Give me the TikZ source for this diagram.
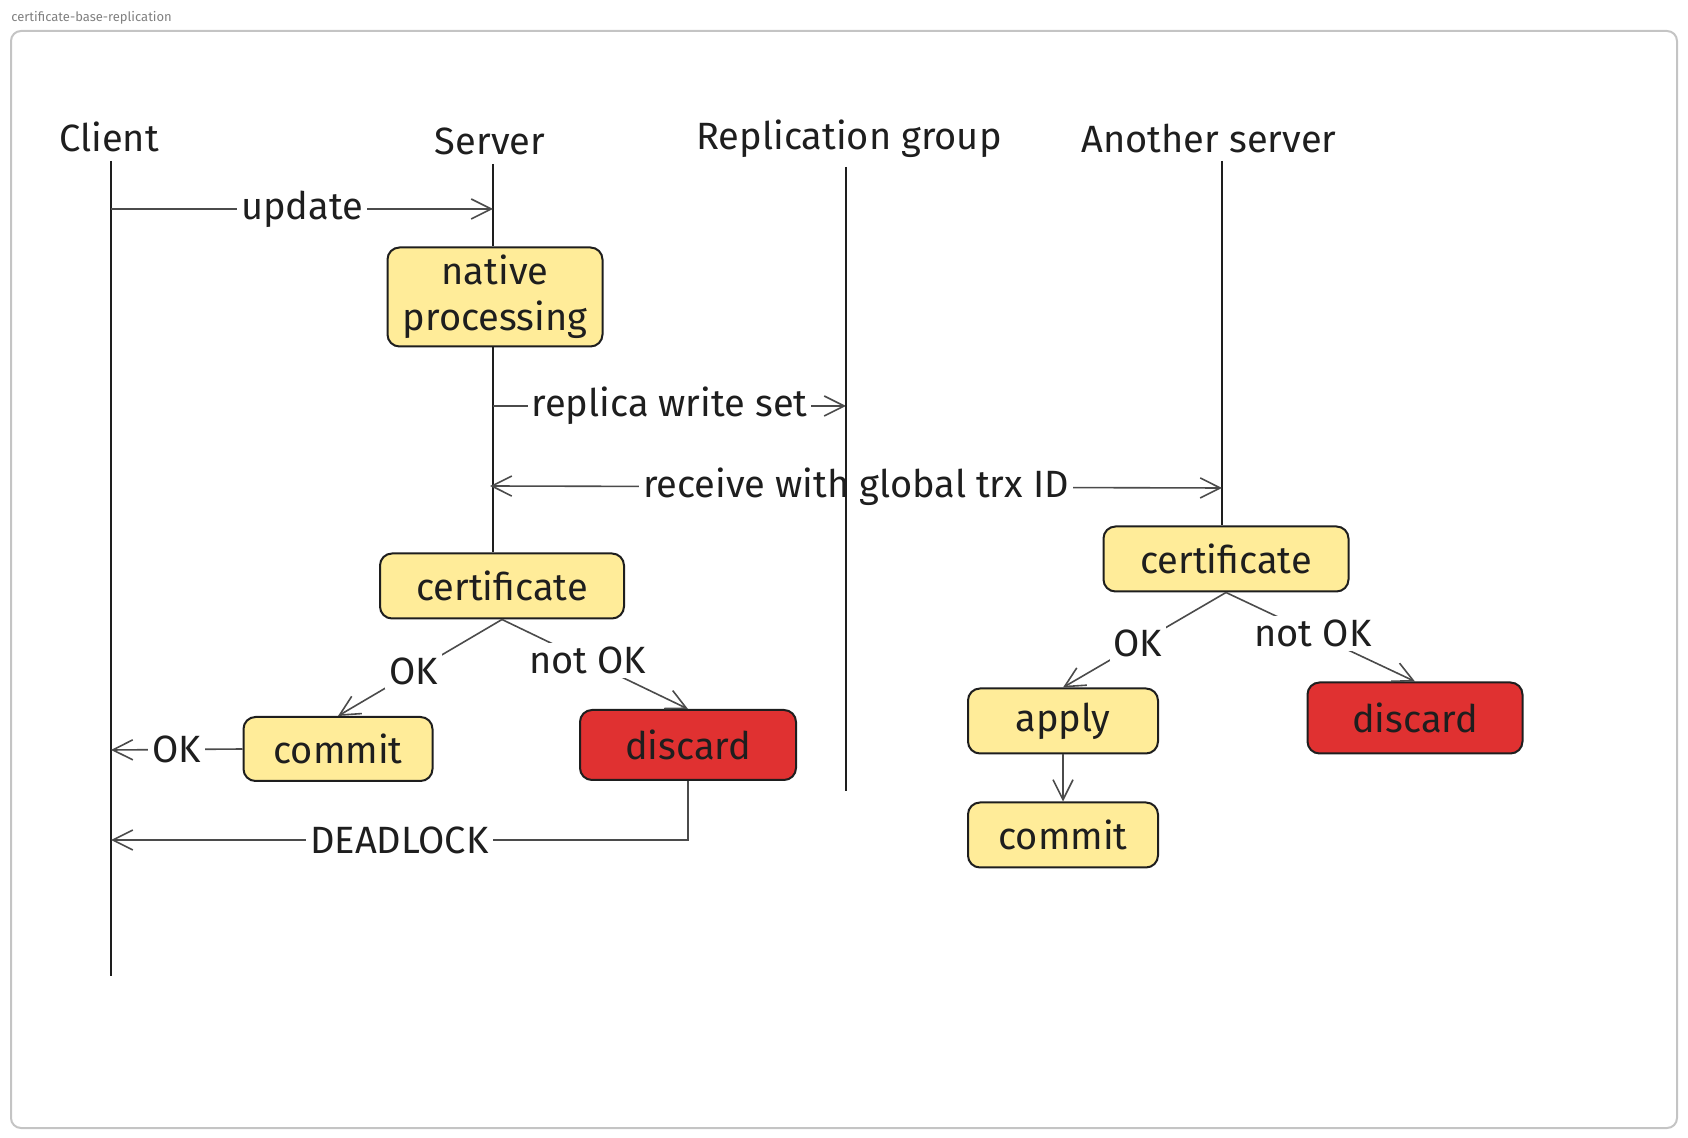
\documentclass[tikz,border=0pt]{standalone}
\usepackage{xcolor}
\usepackage{fontspec}
\setmainfont{Fira Sans}
\usepackage{tikz}
\usetikzlibrary{positioning,arrows.meta}
\definecolor{ink}{HTML}{1E1E1E}
\definecolor{note}{HTML}{FFEC99}
\definecolor{alert}{HTML}{E03131}
\definecolor{framegray}{HTML}{C4C4C4}

\begin{document}
\begin{tikzpicture}[x=0.5pt, y=-0.5pt, >={Straight Barb[length=10pt,width=10pt]},
  every node/.style={font=\fontsize{19}{23}\selectfont, text=ink},
  box/.style={draw=ink, line width=1pt, rounded corners=6pt, fill=note, align=center, inner sep=0pt},
  badbox/.style={box, fill=alert},
  lane/.style={draw=ink, line width=0.8pt},
  msg/.style={draw=ink!80, line width=0.8pt, ->},
  lbl/.style={fill=white, inner sep=2pt}]
  \useasboundingbox (0,0) rectangle (1688,1138);
  \draw[framegray, line width=1pt, rounded corners=5pt] (11,31) rectangle (1677,1128);
  \node[anchor=west, text=gray, font=\fontsize{6.5}{8}\selectfont, inner sep=0pt] (title) at (11,18) {certificate-base-replication};

  \node (client) at (109,137) {Client};
  \node (server) at (490,141) {Server};
  \node (group) at (849,139) {Replication group};
  \node (other) at (1209,139) {Another server};

  \node[box, minimum width=107.5pt, minimum height=49.5pt] (native) at (495,297) {native\\processing};
  \node[box, minimum width=122pt, minimum height=32.5pt] (certL) at (502,586) {certificate};
  \node[box, minimum width=94.5pt, minimum height=32pt] (commitL) at (338,749) {commit};
  \node[badbox, minimum width=108pt, minimum height=35pt] (discardL) at (688,745) {discard};
  \node[box, minimum width=122.5pt, minimum height=32.5pt] (certR) at (1226,559) {certificate};
  \node[box, minimum width=95pt, minimum height=32.5pt] (apply) at (1063,721) {apply};
  \node[box, minimum width=95pt, minimum height=32.5pt] (commitR) at (1063,835) {commit};
  \node[badbox, minimum width=107.5pt, minimum height=35.5pt] (discardR) at (1415,718) {discard};

  \coordinate (clientTop) at (111,161);
  \coordinate (clientEnd) at (111,976);
  \coordinate (serverTop) at (493,164);
  \coordinate (groupTop) at (846,167);
  \coordinate (groupEnd) at (846,791);
  \coordinate (otherTop) at (1222,161);

  \coordinate (c1) at (111,209);
  \coordinate (s1) at (493,209);
  \coordinate (s2) at (493,406);
  \coordinate (g2) at (846,406);
  \coordinate (s3) at (490,486);
  \coordinate (o3) at (1222,488);
  \coordinate (c4) at (111,750);
  \coordinate (c5) at (111,840);

  \draw[lane] (clientTop) -- (clientEnd);
  \draw[lane] (serverTop) -- (serverTop |- native.north);
  \draw[lane] (serverTop |- native.south) -- (serverTop |- certL.north);
  \draw[lane] (otherTop) -- (otherTop |- certR.north);

  \draw[msg] (c1) -- node[lbl] {update} (s1);
  \draw[msg] (s2) -- node[lbl] {replica write set} (g2);
  \draw[msg, <->] (s3) -- node[lbl] {receive with global trx ID} (o3);
  \draw[lane] (groupTop) -- (groupEnd);

  \draw[msg] (certL.south) -- node[lbl, pos=0.54] {OK} (commitL.north);
  \draw[msg] (certL.south) -- node[lbl, pos=0.46] {not OK} (discardL.north);
  \draw[msg] (commitL.west) -- node[lbl] {OK} (c4);
  \draw[msg] (discardL.south) |- node[lbl, pos=0.75] {DEADLOCK} (c5);

  \draw[msg] (certR.south) -- node[lbl, pos=0.54] {OK} (apply.north);
  \draw[msg] (certR.south) -- node[lbl, pos=0.46] {not OK} (discardR.north);
  \draw[msg] (apply) -- (commitR);
\end{tikzpicture}
\end{document}
